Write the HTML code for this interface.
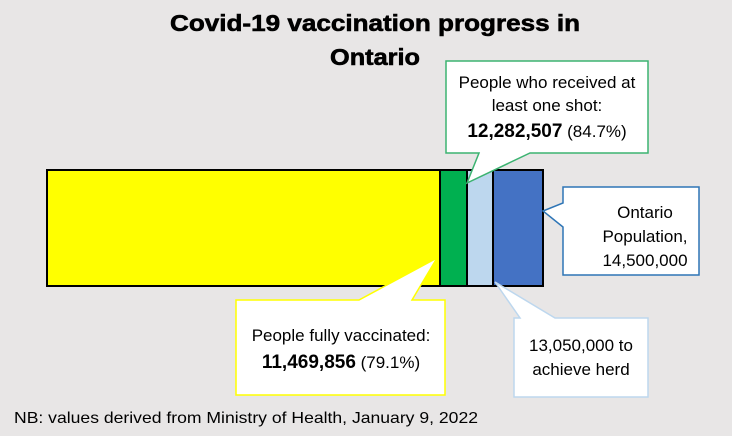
<!DOCTYPE html>
<html><head><style>
html,body{margin:0;padding:0;background:#e8e6e6;}
svg{display:block;font-family:"Liberation Sans",sans-serif;}
</style></head><body>
<svg width="732" height="436" viewBox="0 0 732 436">
<rect width="732" height="436" fill="#e8e6e6"/>
<text x="375" y="31" font-size="23" font-weight="bold" text-anchor="middle" textLength="410" lengthAdjust="spacingAndGlyphs" stroke="#000" stroke-width="0.6">Covid-19 vaccination progress in</text>
<text x="375" y="65" font-size="23" font-weight="bold" text-anchor="middle" textLength="90" lengthAdjust="spacingAndGlyphs" stroke="#000" stroke-width="0.6">Ontario</text>
<rect x="47" y="170" width="393" height="116" fill="#ffff00" stroke="#000" stroke-width="2"/>
<rect x="440" y="170" width="27" height="116" fill="#00b050" stroke="#000" stroke-width="2"/>
<rect x="467" y="170" width="26" height="116" fill="#bdd7ee" stroke="#000" stroke-width="2"/>
<rect x="493" y="170" width="50" height="116" fill="#4472c4" stroke="#000" stroke-width="2"/>
<path d="M446,61 H648 V153 H530 L467,183 L479,153 H446 Z" fill="#fff" stroke="#3cb371" stroke-width="1.5"/>
<text x="547" y="88" font-size="17" text-anchor="middle">People who received at</text>
<text x="547" y="111" font-size="17" text-anchor="middle">least one shot:</text>
<text x="547" y="137" font-size="17" text-anchor="middle"><tspan font-weight="bold" font-size="19">12,282,507</tspan> (84.7%)</text>
<path d="M563,187 H699 V275 H563 V227 L543,211 L563,203 Z" fill="#fff" stroke="#2e75b6" stroke-width="1.5"/>
<text x="645" y="218" font-size="17" text-anchor="middle">Ontario</text>
<text x="645" y="242" font-size="17" text-anchor="middle">Population,</text>
<text x="645" y="266" font-size="17" text-anchor="middle">14,500,000</text>
<path d="M236,300 H359 L437,258 L412,300 H445 V395 H236 Z" fill="#fff" stroke="#ffff00" stroke-width="1.5"/>
<text x="341" y="341" font-size="17" text-anchor="middle">People fully vaccinated:</text>
<text x="341" y="368" font-size="17" text-anchor="middle"><tspan font-weight="bold" font-size="19">11,469,856</tspan> (79.1%)</text>
<path d="M514,318 H520 L495,282 L555,318 H648 V397 H514 Z" fill="#fff" stroke="#bdd7ee" stroke-width="1.5"/>
<text x="581" y="351" font-size="17" text-anchor="middle">13,050,000 to</text>
<text x="581" y="375" font-size="17" text-anchor="middle">achieve herd</text>
<text x="14" y="423" font-size="16" textLength="464" lengthAdjust="spacingAndGlyphs">NB: values derived from Ministry of Health, January 9, 2022</text>
</svg>
</body></html>
